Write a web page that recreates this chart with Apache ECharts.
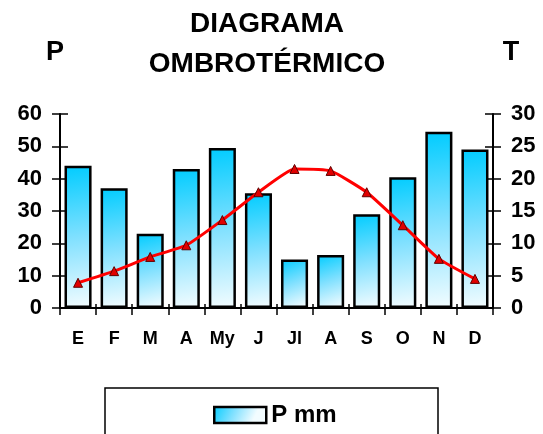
<!DOCTYPE html>
<html><head><meta charset="utf-8">
<script src="https://cdn.jsdelivr.net/npm/echarts@6/dist/echarts.min.js"></script>
<style>html,body{margin:0;padding:0;background:#fff}#c{width:543px;height:434px}</style>
</head><body><div id="c"></div>
<script>
const months = ['E','F','M','A','My','J','Jl','A','S','O','N','D'];
const precip = [44, 37, 23, 43, 49.5, 35.5, 15, 16.4, 29, 40.4, 54.5, 49];
const temp = [3.9, 5.7, 7.9, 9.7, 13.6, 17.9, 21.5, 21.2, 17.9, 12.8, 7.6, 4.5];
const pTicks = [0,10,20,30,40,50,60];
const tTicks = [0,5,10,15,20,25,30];

const font = 'Liberation Sans, Arial, sans-serif';
const grad = new echarts.graphic.LinearGradient(0,0,0.7,1,[
  {offset:0,color:'#00CCFF'},{offset:0.5,color:'#7FE0FF'},{offset:1,color:'#F2FCFF'}]);
const tickStyle = {color:'#000',width:1.5};
const lblStyle = {fontFamily:font,fontWeight:'bold',fontSize:22,color:'#000',margin:18};
const chart = echarts.init(document.getElementById('c'));
chart.setOption({
  animation:false,
  graphic:[
    {type:'text',x:267,y:24,style:{text:'DIAGRAMA',font:'bold 28px '+font,fill:'#000',align:'center',verticalAlign:'middle'}},
    {type:'text',x:267,y:64,style:{text:'OMBROTÉRMICO',font:'bold 28px '+font,fill:'#000',align:'center',verticalAlign:'middle'}},
    {type:'text',x:55,y:53,style:{text:'P',font:'bold 27px '+font,fill:'#000',align:'center',verticalAlign:'middle'}},
    {type:'text',x:511,y:53,style:{text:'T',font:'bold 27px '+font,fill:'#000',align:'center',verticalAlign:'middle'}},
    {type:'rect',shape:{x:105,y:388,width:333,height:60},style:{fill:'none',stroke:'#000',lineWidth:1.5}}
  ],
  legend:{data:['P mm'],left:213,top:403,padding:0,itemWidth:52,itemHeight:16,itemGap:5,icon:'rect',
    itemStyle:{borderColor:'#000',borderWidth:2.5},
    textStyle:{fontFamily:font,fontWeight:'bold',fontSize:24,color:'#000'}},
  grid:{left:60,right:50,top:114,bottom:126},
  xAxis:[
    {type:'category',data:months,
     axisLine:{lineStyle:{color:'#000',width:2}},
     axisTick:{show:true,length:7,lineStyle:tickStyle},
     axisLabel:{fontFamily:font,fontWeight:'bold',fontSize:18,color:'#000',margin:22}},
    {type:'category',data:months,position:'bottom',
     axisLine:{show:false},axisLabel:{show:false},
     axisTick:{show:true,inside:true,length:4,lineStyle:tickStyle}}
  ],
  yAxis:[
    {type:'value',min:0,max:60,interval:10,position:'left',
     axisLine:{show:true,lineStyle:{color:'#000',width:2}},
     axisTick:{show:true,length:8,lineStyle:tickStyle},
     splitLine:{show:false},axisLabel:lblStyle},
    {type:'value',min:0,max:30,interval:5,position:'right',
     axisLine:{show:true,lineStyle:{color:'#000',width:2}},
     axisTick:{show:true,length:8,lineStyle:tickStyle},
     splitLine:{show:false},axisLabel:lblStyle},
    {type:'value',min:0,max:60,interval:10,position:'left',
     axisLine:{show:false},axisLabel:{show:false},splitLine:{show:false},
     axisTick:{show:true,inside:true,length:8,lineStyle:tickStyle}},
    {type:'value',min:0,max:30,interval:5,position:'right',
     axisLine:{show:false},axisLabel:{show:false},splitLine:{show:false},
     axisTick:{show:true,inside:true,length:8,lineStyle:tickStyle}}
  ],
  series:[
    {name:'P mm',type:'bar',data:precip,yAxisIndex:0,barCategoryGap:'25%',
     itemStyle:{color:grad,borderColor:'#000',borderWidth:2.5}},
    {name:'T',type:'line',data:temp,yAxisIndex:1,smooth:0.15,
     symbol:'triangle',symbolSize:9,
     lineStyle:{color:'#FF0000',width:3},
     itemStyle:{color:'#E00000',borderColor:'#600000',borderWidth:1}}
  ]
});
</script></body></html>
